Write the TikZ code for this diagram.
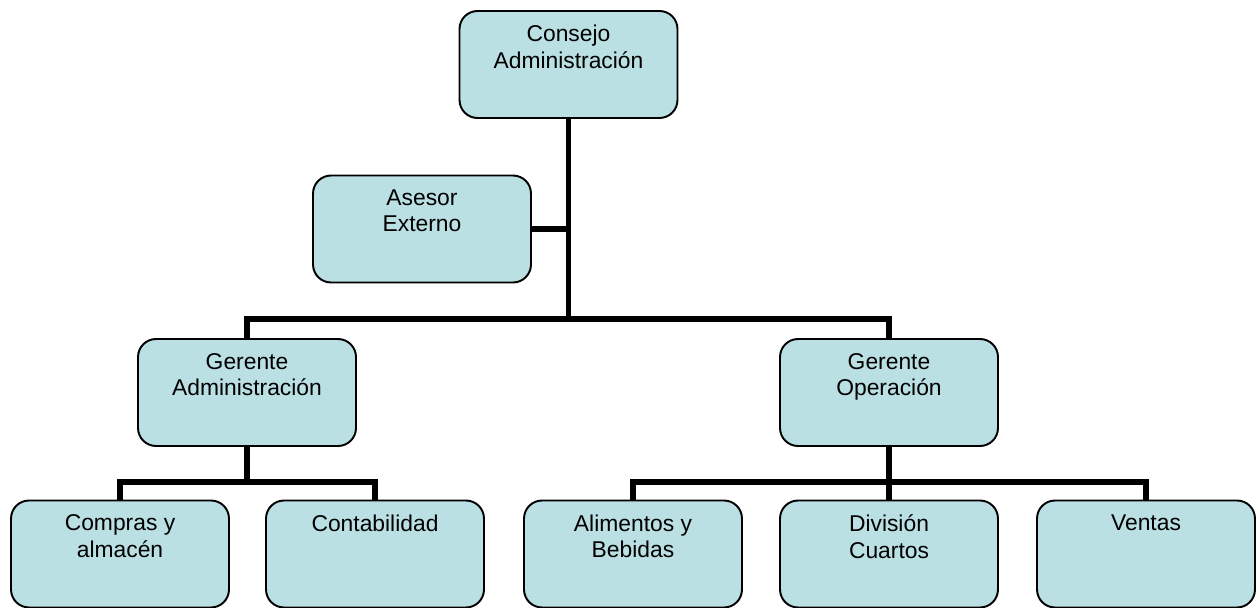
\documentclass[tikz,border=0pt]{standalone}
\usepackage{fontspec}
\setmainfont{Liberation Sans}
\usepackage{tikz}
\usetikzlibrary{positioning}
\definecolor{boxfill}{HTML}{BBE0E3}

\begin{document}
\begin{tikzpicture}[x=0.02cm,y=-0.02cm,
  unit/.style={draw=black,fill=boxfill,line width=1.1pt,rounded corners=0.36cm,
    minimum width=4.36cm,minimum height=2.14cm,inner sep=0pt},
  caption/.style={align=center,inner sep=0pt,anchor=north,
    font=\fontsize{13}{15}\selectfont},
  conn/.style={line width=3.3pt}]
\useasboundingbox (0,0) rectangle (1258,608);
% boxes
\node[unit] (cons) at (568.5,64.5) {};
\node[unit] (ase) at (422,229) {};
\node[unit] (gadm) at (247,392.5) {};
\node[unit] (gop) at (889,392.5) {};
\node[unit] (comp) at (120,554) {};
\node[unit] (cont) at (375,554) {};
\node[unit] (alim) at (633,554) {};
\node[unit] (div) at (889,554) {};
\node[unit] (vent) at (1146,554) {};
% texts
\node[caption,below=0.3cm of cons.north] (consT) {Consejo\\Administración};
\node[caption,below=0.3cm of ase.north] (aseT) {Asesor\\Externo};
\node[caption,below=0.3cm of gadm.north] (gadmT) {Gerente\\Administración};
\node[caption,below=0.3cm of gop.north] (gopT) {Gerente\\Operación};
\node[caption,below=0.3cm of comp.north] (compT) {Compras y\\almacén};
\node[caption,below=0.3cm of cont.north] (contT) {Contabilidad};
\node[caption,below=0.3cm of alim.north] (alimT) {Alimentos y\\Bebidas};
\node[caption,below=0.3cm of div.north] (divT) {División\\Cuartos};
\node[caption,below=0.3cm of vent.north] (ventT) {Ventas};
% junctions
\coordinate (j1) at (568.5,319);
\coordinate (j2) at (247,482);
\coordinate (j3) at (889,482);
% connectors
\draw[conn] (cons.south) -- (j1);
\draw[conn] (ase.east) -- (ase.east -| j1);
\draw[conn] (gadm.north) |- (j1) -| (gop.north);
\draw[conn] (gadm.south) -- (j2);
\draw[conn] (comp.north) |- (j2) -| (cont.north);
\draw[conn] (gop.south) -- (j3);
\draw[conn] (alim.north) |- (j3) -| (vent.north);
\draw[conn] (div.north) -- (j3);
\end{tikzpicture}
\end{document}
